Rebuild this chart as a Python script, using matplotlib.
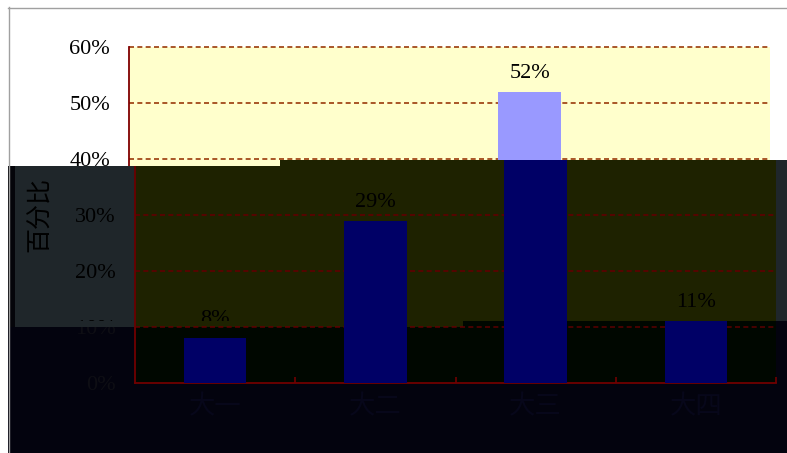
import matplotlib.pyplot as plt
from matplotlib.patches import Polygon, Rectangle
from matplotlib.lines import Line2D
from matplotlib.text import Text

categories = ['大一', '大二', '大三', '大四']
values = [8, 29, 52, 11]
value_labels = ['8%', '29%', '52%', '11%']
yticks = [0, 10, 20, 30, 40, 50, 60]
ytick_labels = ['0%', '10%', '20%', '30%', '40%', '50%', '60%']
boundaries = [0.5, 1.5, 2.5, 3.5]

W, H = 787, 453
FONT = ['Liberation Serif', 'Noto Sans CJK SC']


def fx(x):
    return x / W


def fy(y):
    return 1 - y / H


def fig_poly(pts, **kw):
    return Polygon([(fx(x), fy(y)) for x, y in pts], closed=True,
                   transform=fig.transFigure, **kw)


def fig_rect(x0, y0, x1, y1, **kw):
    return Rectangle((fx(x0), fy(y1)), (x1 - x0) / W, (y1 - y0) / H,
                     transform=fig.transFigure, **kw)


def draw_chart(ax, face, bar, grid, spine, text, xtext):
    ax.set_facecolor(face)
    x = list(range(len(categories)))
    ax.bar(x, values, width=0.39, color=bar, zorder=3)
    for i, v in enumerate(values):
        ax.annotate(value_labels[i], (i, v), xytext=(0, 6.5),
                    textcoords='offset points', ha='center', va='bottom',
                    fontsize=16, family=FONT, color=text)
    ax.set_xlim(-0.5, len(categories) - 0.5)
    ax.set_ylim(0, 60)
    for y in yticks[1:]:
        ax.axhline(y, color=grid, lw=1.2, ls=(0, (3, 2)), zorder=1, clip_on=False)
    for s in ['top', 'right']:
        ax.spines[s].set_visible(False)
    for s in ['left', 'bottom']:
        ax.spines[s].set_color(spine)
        ax.spines[s].set_linewidth(1.3)
    ax.set_xticks(x, categories)
    ax.set_xticks(boundaries, minor=True)
    ax.tick_params(axis='x', which='major', length=0, pad=9, labelsize=19,
                   labelcolor=xtext)
    ax.tick_params(axis='x', which='minor', direction='in', length=4.3,
                   width=1.2, color=spine)
    ax.set_yticks(yticks, ytick_labels)
    ax.tick_params(axis='y', length=0, pad=13.7, labelsize=16, labelcolor=text)
    for lab in ax.get_xticklabels() + ax.get_yticklabels():
        lab.set_family(FONT)
    ax.set_ylabel('百分比', fontsize=18, family=FONT, color=text)
    ax.yaxis.set_label_coords(-0.13, 0.5)


def clip_all(ax, poly, rect):
    # agg only honours clip rectangles for text, so texts get the box
    for a in ax.findobj():
        if a is ax:
            continue
        a.set_clip_path(rect if isinstance(a, Text) else poly)
        a.set_clip_on(True)


fig = plt.figure(figsize=(W / 100, H / 100), dpi=100)
fig.patch.set_facecolor('white')

# clean chart
ax1 = fig.add_axes([fx(129), fy(383), 641 / W, 336 / H])
draw_chart(ax1, '#FFFFCC', '#9999FF', '#9a3a0a', '#800000', 'black', 'black')

# darkened overlay regions (shifted copy of the chart)
region_a = [(8, 166), (280, 166), (280, 160), (787, 160), (787, 321),
            (463, 321), (463, 327), (8, 327)]
region_b = [(8, 327), (463, 327), (463, 321), (787, 321), (787, 453), (8, 453)]

fig.patches.append(fig_poly(region_a, facecolor='#1f262a', edgecolor='none', zorder=1))
fig.patches.append(fig_poly(region_b, facecolor='#03030e', edgecolor='none', zorder=1))
fig.patches.append(fig_rect(8, 166, 15, 327, facecolor='#05050a', edgecolor='none',
                            zorder=1.5))

ax2 = fig.add_axes([fx(135), fy(383), 641 / W, 336 / H])
ax2.set_zorder(2)
draw_chart(ax2, '#1e2200', '#000066', '#600000', '#6a0000', '#000000', '#000000')
clip_all(ax2, fig_poly(region_a), fig_rect(8, 166, 787, 321))

ax3 = fig.add_axes([fx(135), fy(383), 641 / W, 336 / H])
ax3.set_zorder(3)
draw_chart(ax3, '#000700', '#000066', '#550000', '#700000', '#0e0e14', '#07071a')
clip_all(ax3, fig_poly(region_b), fig_rect(8, 327, 787, 453))

# outer frame
fig.add_artist(Line2D([fx(8.5), fx(8.5)], [fy(7), fy(453)], color='#a0a0a0', lw=1,
                      transform=fig.transFigure, zorder=10))
fig.add_artist(Line2D([fx(8), fx(787)], [fy(7.5), fy(7.5)], color='#a0a0a0', lw=1,
                      transform=fig.transFigure, zorder=10))

fig.savefig('out.png', dpi=100)
